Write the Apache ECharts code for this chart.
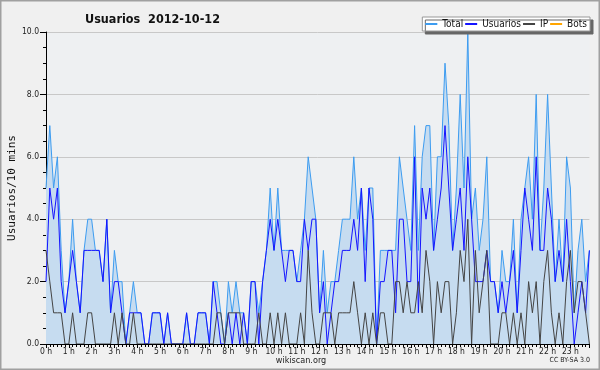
<!DOCTYPE html>
<html><head><meta charset="utf-8">
<script src="https://cdn.jsdelivr.net/npm/echarts@6/dist/echarts.min.js"></script>
<style>html,body{margin:0;padding:0;background:#f0f0f0}#c{width:600px;height:370px}</style>
</head><body><div id="c"></div>
<script>
const hourLabels = ['0 h','1 h','2 h','3 h','4 h','5 h','6 h','7 h','8 h','9 h','10 h','11 h','12 h','13 h','14 h','15 h','16 h','17 h','18 h','19 h','20 h','21 h','22 h','23 h'];
const yTicks = [0, 2, 4, 6, 8, 10];
const total = [5,7,5,6,3,1,2,4,2,1,3,4,4,3,3,2,4,1,3,2,2,0,1,2,
  1,1,0,0,1,1,1,0,1,0,0,0,0,1,0,0,1,1,1,0,2,2,1,0,2,1,2,1,1,0,
  2,2,1,2,3,5,3,5,3,3,3,3,2,3,4,6,5,4,1,3,1,2,2,3,4,4,4,6,4,5,
  3,5,5,0,3,3,3,3,3,6,5,4,3,7,3,6,7,7,3,6,6,9,7,3,5,8,5,10,4,5,
  3,4,6,2,2,1,3,2,2,4,1,4,5,6,4,8,3,5,8,5,2,4,2,6,5,1,3,4,2,3];
const usuarios = [2,5,4,5,2,1,2,3,2,1,3,3,3,3,3,2,4,1,2,2,1,0,1,1,
  1,1,0,0,1,1,1,0,1,0,0,0,0,1,0,0,1,1,1,0,2,1,0,0,1,0,1,0,1,0,
  2,2,0,2,3,4,3,4,3,2,3,3,2,2,4,3,4,4,1,2,0,1,2,2,3,3,3,4,3,5,
  2,5,4,0,2,2,3,3,1,4,4,2,2,6,1,5,4,5,3,4,5,7,5,3,4,5,3,6,4,2,
  2,2,3,2,2,1,2,1,2,3,1,3,5,4,3,6,3,3,5,4,2,3,2,4,2,0,1,2,1,3];
const ip = [3,2,1,1,1,0,0,1,0,0,0,1,1,0,0,0,0,0,1,0,1,0,0,1,
  0,0,0,0,0,0,0,0,0,0,0,0,0,0,0,0,0,0,0,0,0,1,1,0,1,1,1,1,0,0,
  0,0,1,0,0,1,0,1,0,1,0,0,0,1,0,3,1,0,0,1,1,1,0,1,1,1,1,2,1,0,
  1,0,1,0,1,1,0,0,2,2,1,2,1,1,2,1,3,2,0,2,1,2,2,0,1,3,2,4,0,3,
  1,2,3,0,0,0,1,1,0,1,0,1,0,2,1,2,0,2,3,1,0,1,0,2,3,1,2,2,1,0];
const bots = total.map(() => 0);

const pairs = a => a.map((v, i) => [i, v]);
const chart = echarts.init(document.getElementById('c'), null, {renderer: 'canvas'});
const F = 'DejaVu Sans Condensed, DejaVu Sans';
chart.setOption({
  animation: false,
  backgroundColor: '#f0f0f0',
  textStyle: {fontFamily: F},
  title: {text: 'Usuarios  2012-10-12', left: 80, top: 8,
    textStyle: {fontFamily: F, fontSize: 12.5, fontWeight: 'bold', color: '#111'}},
  legend: {
    right: 10, top: 17, orient: 'horizontal',
    backgroundColor: '#fff', borderColor: '#999', borderWidth: 1,
    shadowColor: '#666', shadowOffsetX: 3, shadowOffsetY: 3, shadowBlur: 0,
    padding: [2, 3, 2, 3], itemGap: 2, itemWidth: 12, itemHeight: 2,
    icon: 'rect',
    textStyle: {fontFamily: F, fontSize: 10, color: '#111'},
    data: ['Total', 'Usuarios', 'IP', 'Bots']
  },
  grid: {left: 46, right: 10.6, top: 32, bottom: 26, show: true, outerBoundsMode: 'none',
    containLabel: false, backgroundColor: '#eef0f2', borderWidth: 0},
  xAxis: {
    type: 'value', min: 0, max: 143, interval: 6,
    axisLine: {show: true, onZero: false, lineStyle: {color: '#000', width: 1}},
    axisTick: {show: true, length: 4, lineStyle: {color: '#000'}},
    minorTick: {show: true, splitNumber: 6, length: 3, lineStyle: {color: '#000'}},
    splitLine: {show: false},
    axisLabel: {fontFamily: F, fontSize: 8.5, color: '#222', margin: 3, showMaxLabel: false,
      formatter: v => (v % 6 === 0 && v / 6 < hourLabels.length) ? hourLabels[v / 6] : ''},
    z: 10
  },
  yAxis: {
    type: 'value', min: yTicks[0], max: yTicks[yTicks.length - 1], interval: 2,
    axisLine: {show: true, lineStyle: {color: '#000', width: 1}},
    axisTick: {show: true, length: 6, lineStyle: {color: '#000'}},
    minorTick: {show: true, splitNumber: 4, length: 3, lineStyle: {color: '#000'}},
    splitLine: {show: true, lineStyle: {color: '#c8c8c8', width: 1}},
    axisLabel: {fontFamily: F, fontSize: 8.5, color: '#222', margin: 7, formatter: v => v.toFixed(1)},
    name: 'Usuarios/10 mins', nameLocation: 'middle', nameGap: 28.5, nameRotate: 90,
    nameMoveOverlap: false,
    nameTextStyle: {fontFamily: 'DejaVu Sans Mono', fontSize: 11, color: '#111'}
  },
  graphic: [
    {type: 'rect', shape: {x: 0.5, y: 0.5, width: 599, height: 369}, style: {fill: null, stroke: '#a0a0a0', lineWidth: 2}, silent: true},
    {type: 'text', x: 301, y: 356, style: {text: 'wikiscan.org', align: 'center', fontFamily: F, fontSize: 9, fill: '#222'}},
    {type: 'text', x: 590, y: 357, style: {text: 'CC BY-SA 3.0', align: 'right', fontFamily: F, fontSize: 7, fill: '#222'}}
  ],
  series: [
    {name: 'Total', type: 'line', data: pairs(total), symbol: 'none',
      lineStyle: {color: '#3d9cf0', width: 1}, itemStyle: {color: '#3d9cf0'},
      areaStyle: {color: '#c6dcf0', opacity: 1}},
    {name: 'Usuarios', type: 'line', data: pairs(usuarios), symbol: 'none',
      lineStyle: {color: '#1414ff', width: 1}, itemStyle: {color: '#1414ff'}},
    {name: 'IP', type: 'line', data: pairs(ip), symbol: 'none',
      lineStyle: {color: '#444', width: 1}, itemStyle: {color: '#444'}},
    {name: 'Bots', type: 'line', data: pairs(bots), symbol: 'none', z: 1,
      lineStyle: {color: '#ffa500', width: 1}, itemStyle: {color: '#ffa500'}}
  ]
});
</script></body></html>
